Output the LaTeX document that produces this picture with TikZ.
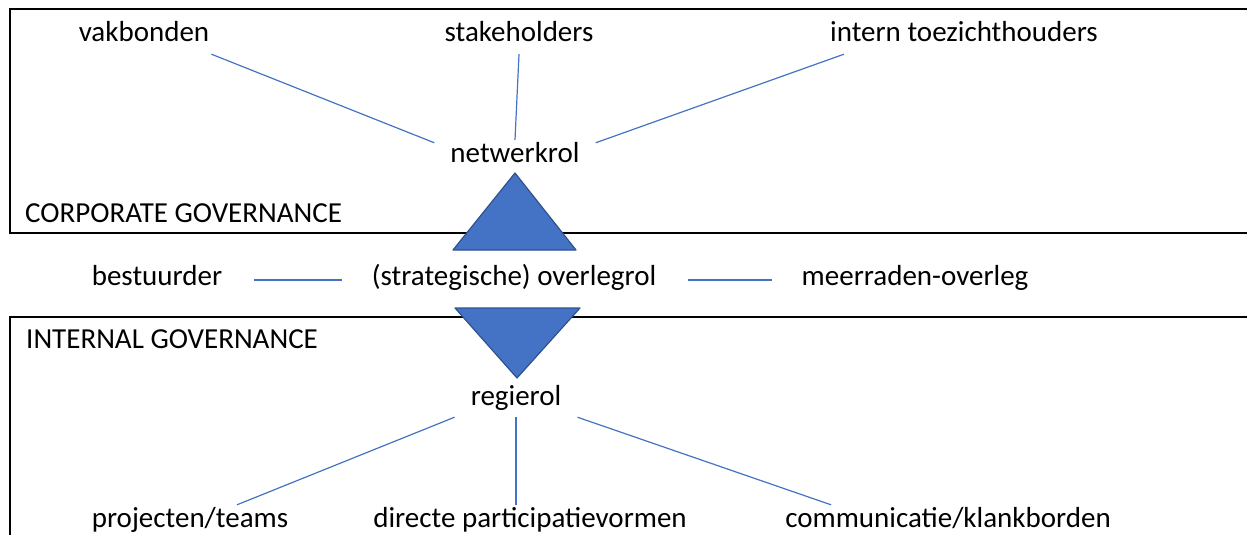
\documentclass[tikz,border=0pt]{standalone}
\usepackage{fontspec}
\setmainfont{Carlito}
\usepackage{tikz}
\usetikzlibrary{positioning}
\definecolor{officeblauw}{HTML}{4472C4}
\definecolor{randblauw}{HTML}{2F528F}

\begin{document}
\begin{tikzpicture}[x=1pt, y=-1pt,
    rol/.style={font=\fontsize{29}{35}\selectfont, inner xsep=2pt, inner ysep=0pt,
        text height=22pt, text depth=12pt, anchor=base},
    kern/.style={rol, inner xsep=16pt},
    lijn/.style={draw=officeblauw, line width=1.2pt},
    kort/.style={lijn, shorten <=30pt, shorten >=28pt},
    kader/.style={line width=2.5pt},
    driehoek/.style={fill=officeblauw, draw=randblauw, line width=1.2pt, line join=round},
]
\useasboundingbox (0,0) rectangle (1247,535);
\draw[kader] (1247,9) -- (10,9) -- (10,233) -- (1247,233);
\draw[kader] (1247,317) -- (10,317) -- (10,535);

\node[rol] (vak) at (144,42) {vakbonden};
\node[rol] (stake) at (519,42) {stakeholders};
\node[rol] (intern) at (964,42) {intern toezichthouders};
\node[kern] (net) at (515,162) {netwerkrol};
\node[rol, anchor=base west] (corp) at (23,222) {CORPORATE GOVERNANCE};

\node[rol] (best) at (157,285) {bestuurder};
\node[rol] (overleg) at (514,285) {(strategische) overlegrol};
\node[rol] (meer) at (915,285) {meerraden-overleg};

\node[rol, anchor=base west] (intgov) at (24,348) {INTERNAL GOVERNANCE};
\node[kern] (regie) at (516,405) {regierol};
\node[rol] (proj) at (190,527) {projecten/teams};
\node[rol] (part) at (530,527) {directe participatievormen};
\node[rol] (comm) at (948,527) {communicatie/klankborden};

\path[driehoek] (515,173) -- (576,250) -- (453,250) -- cycle;
\path[driehoek] (455,308) -- (580,308) -- (517,378) -- cycle;

\draw[lijn] (vak.south east) -- (net.170);
\draw[lijn] (stake.south) -- (net.north);
\draw[lijn] ([xshift=16pt]intern.south west) -- (net.10);
\draw[kort] (best) -- (overleg);
\draw[kort] (overleg) -- (meer);
\draw[lijn] (regie.south west) -- ([xshift=47pt]proj.north);
\draw[lijn] (regie.south) -- (regie.south |- part.north);
\draw[lijn] (regie.south east) -- ([xshift=48pt]comm.north west);
\end{tikzpicture}
\end{document}
